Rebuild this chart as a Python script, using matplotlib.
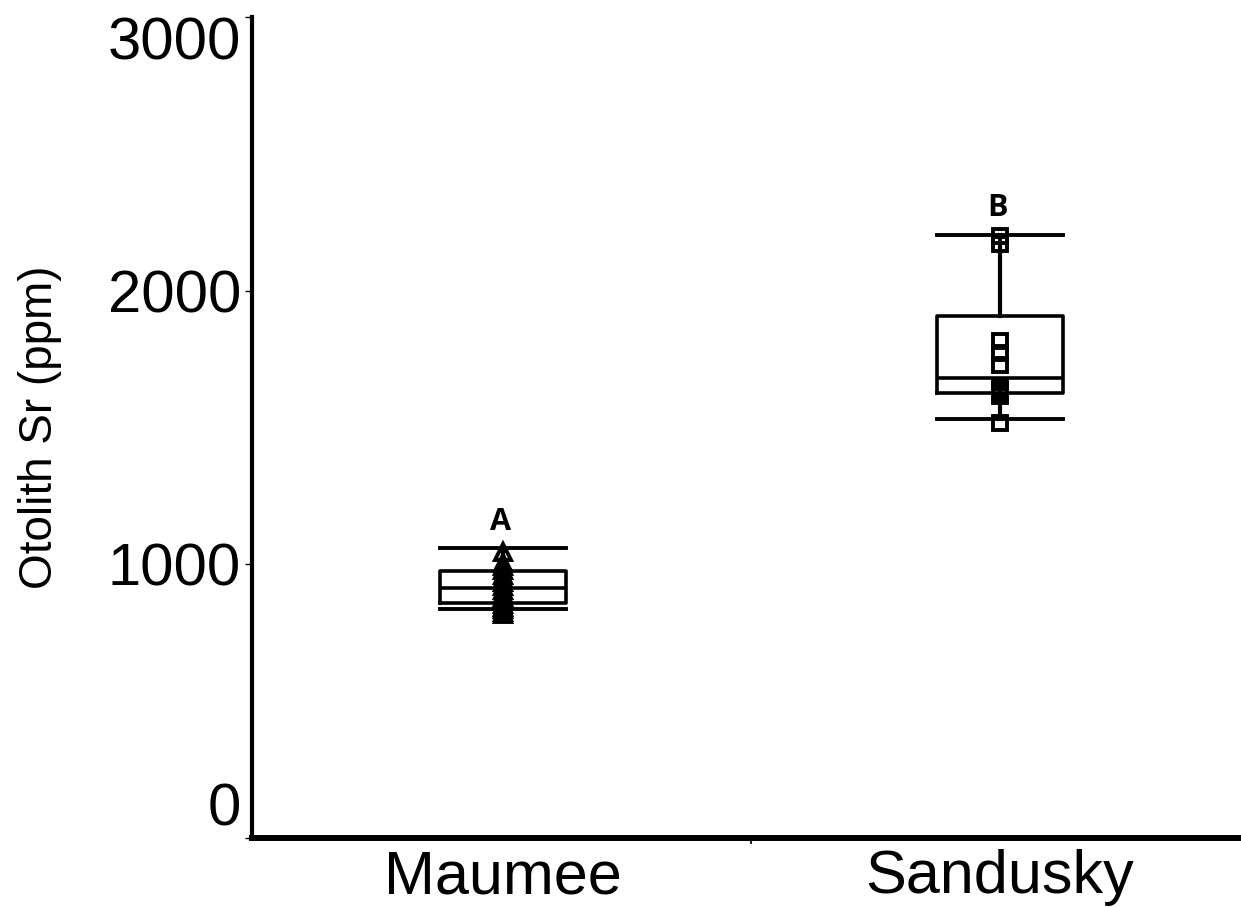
import matplotlib
matplotlib.use("Agg")
import matplotlib.pyplot as plt

# Sites and their box-plot summaries (ppm)
sites = ["Maumee", "Sandusky"]
whisker_low = [837, 1530]
quartile_1 = [859, 1627]
medians = [914, 1682]
quartile_3 = [976, 1909]
whisker_high = [1060, 2205]

# Individual otolith Sr measurements
maumee_sr = [1046, 1004, 992, 978, 962, 948, 934, 920, 906, 893, 880,
             868, 856, 845, 835, 826, 820]
sandusky_sr = [2198, 2172, 1817, 1773, 1729, 1648, 1641, 1634, 1627, 1620,
               1614, 1518]

# Significance letters and their heights
letters = ["A", "B"]
letter_y = [1155, 2303]

y_ticks = [0, 1000, 2000, 3000]

fig = plt.figure(figsize=(12.41, 9.07), dpi=100)
ax = fig.add_axes([0.2031, 0.0761, 0.7945, 0.9052])

positions = [1, 2]
stats = []
for i, name in enumerate(sites):
    stats.append(dict(label=name, whislo=whisker_low[i], q1=quartile_1[i],
                      med=medians[i], q3=quartile_3[i], whishi=whisker_high[i],
                      fliers=[]))

box_w = 0.252
ax.bxp(stats, positions=positions, widths=box_w, capwidths=box_w,
       showfliers=False, patch_artist=False,
       boxprops=dict(color="black", linewidth=2.6),
       whiskerprops=dict(color="black", linewidth=3.0),
       capprops=dict(color="black", linewidth=2.8),
       medianprops=dict(color="black", linewidth=2.6))

# Open markers (no fill) so overlapping points build up into solid stacks
ax.plot([1] * len(maumee_sr), maumee_sr, linestyle="none", marker="^",
        markersize=12, markerfacecolor="none", markeredgecolor="black",
        markeredgewidth=2.8, zorder=3)
ax.plot([2] * len(sandusky_sr), sandusky_sr, linestyle="none", marker="s",
        markersize=10.5, markerfacecolor="none", markeredgecolor="black",
        markeredgewidth=2.8, zorder=3)

for pos, txt, yv in zip(positions, letters, letter_y):
    ax.text(pos - 0.005, yv, txt, ha="center", va="center", fontsize=22,
            fontweight="bold", family="Open Sans", color="black")

ax.set_xlim(0.495, 2.479)
ax.set_ylim(0, 3000)

ax.set_yticks(y_ticks)
ax.set_yticklabels([str(v) for v in y_ticks], fontsize=43, family="Liberation Sans")
ax.tick_params(axis="y", direction="out", length=5, width=1, pad=3)
yt = ax.yaxis.get_major_ticks()
yt[0].label1.set_verticalalignment("bottom")
yt[-1].label1.set_verticalalignment("top")

ax.set_xticks(positions)
ax.set_xticklabels(sites, fontsize=44, family="Liberation Sans")
ax.tick_params(axis="x", which="major", length=0, pad=8)
ax.set_xticks([1.5], minor=True)
ax.tick_params(axis="x", which="minor", direction="out", length=4, width=1.2)

ax.set_ylabel("Otolith Sr (ppm)", fontsize=33, family="Liberation Sans", labelpad=33)

for side in ["top", "right"]:
    ax.spines[side].set_visible(False)
ax.spines["left"].set_linewidth(3)
ax.spines["bottom"].set_linewidth(4.3)

fig.savefig("out.png", dpi=100, facecolor="white")
